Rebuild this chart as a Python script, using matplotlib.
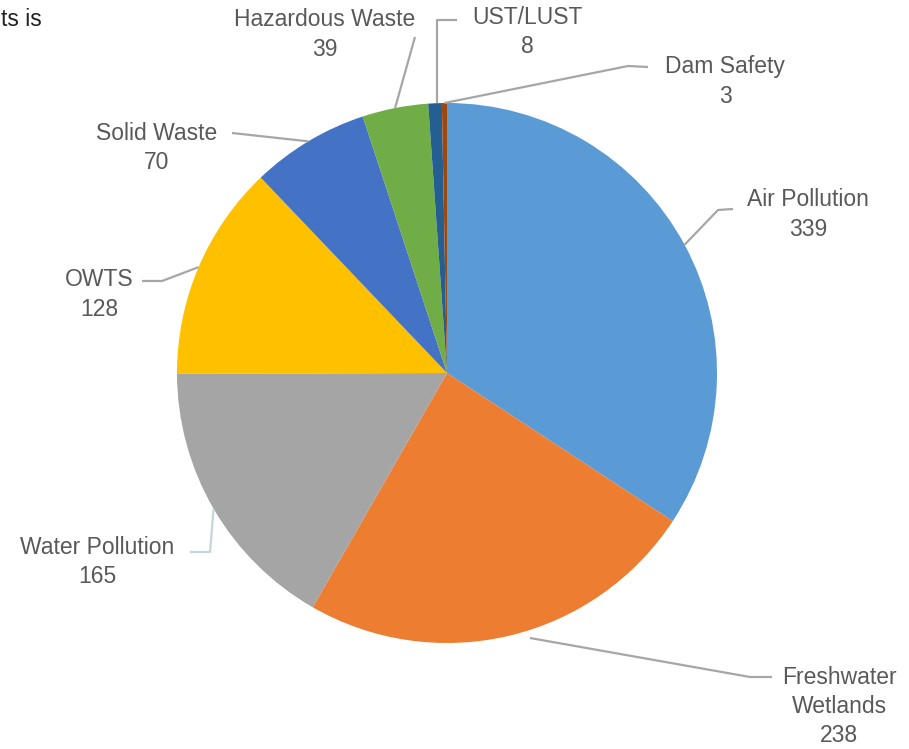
import numpy as np
import matplotlib
matplotlib.use("Agg")
import matplotlib.pyplot as plt

# complaint counts by program
categories = ["Air Pollution", "Freshwater\nWetlands", "Water Pollution", "OWTS",
              "Solid Waste", "Hazardous Waste", "UST/LUST", "Dam Safety"]
values = [339, 238, 165, 128, 70, 39, 8, 3]
colors = ["#5B9BD5", "#ED7D31", "#A5A5A5", "#FFC000",
          "#4472C4", "#70AD47", "#255E91", "#9E480E"]

W, H = 909, 749
cx, cy, R = 447, H - 373, 270

fig = plt.figure(figsize=(W / 100, H / 100), dpi=100)
ax = fig.add_axes([0, 0, 1, 1])

wedges, _ = ax.pie(values, colors=colors, startangle=90, counterclock=False,
                   center=(cx, cy), radius=R,
                   wedgeprops=dict(linewidth=0))
ax.set_xlim(0, W)
ax.set_ylim(0, H)
ax.set_aspect("equal")
ax.axis("off")

txt_color = "#595959"
line_color = "#a6a6a6"
fs = 16.5
step = 29.5  # px between label lines

# first-line centre of each label (px from top-left), leader elbow points (px)
label_pos = [(808, 200), (839, 677), (97, 547), (99, 280),
             (157, 133), (325, 20), (527, 17), (725, 67)]
elbows = [[(718, 210), (733, 209)],
          [(750, 677), (772, 677)],
          [(210, 552), (190, 552)],
          [(162, 281), (142, 281)],
          [(232, 133)],
          [(415, 37)],
          [(437, 20), (457, 20)],
          [(628, 66), (648, 67)]]

for w, name, v, (lx, ly), pts in zip(wedges, categories, values, label_pos, elbows):
    mid = np.deg2rad((w.theta1 + w.theta2) / 2)
    ex, ey = cx + R * np.cos(mid), cy + R * np.sin(mid)
    if name.startswith("Freshwater"):
        ex, ey = 530, H - 638
    xs = [ex] + [p[0] for p in pts]
    ys = [ey] + [H - p[1] for p in pts]
    lc = "#c5d5dc" if name == "Water Pollution" else line_color
    if name == "UST/LUST":
        xs[0] = pts[0][0]
    ax.plot(xs, ys, color=lc, lw=1.6, solid_capstyle="butt")
    lines = name.split("\n") + [str(v)]
    for i, s in enumerate(lines):
        ax.text(lx, H - (ly + i * step), s, ha="center", va="center",
                color=txt_color, fontsize=fs, family="Liberation Sans")

ax.text(1, H - 20, "ts is", ha="left", va="center", color="#222222",
        fontsize=fs, family="Liberation Sans")

fig.savefig("out.png", dpi=100)
